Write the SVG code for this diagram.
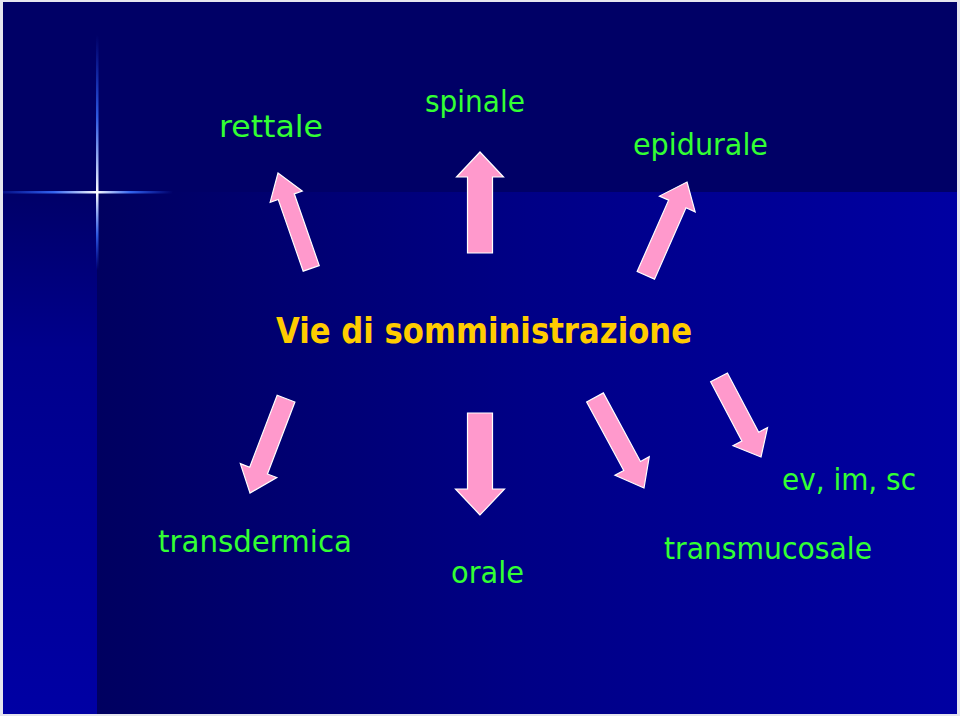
<svg xmlns="http://www.w3.org/2000/svg" width="960" height="716" viewBox="0 0 960 716">
  <defs>
    <linearGradient id="mainGrad" x1="0" y1="0" x2="1" y2="0">
      <stop offset="0" stop-color="#000060"/>
      <stop offset="0.5" stop-color="#000086"/>
      <stop offset="1" stop-color="#0000a2"/>
    </linearGradient>
    <linearGradient id="stripGrad" x1="0" y1="0" x2="0" y2="1">
      <stop offset="0" stop-color="#000068"/>
      <stop offset="0.3" stop-color="#00008c"/>
      <stop offset="1" stop-color="#0000a4"/>
    </linearGradient>
    <linearGradient id="hGlow" x1="0" y1="0" x2="1" y2="0">
      <stop offset="0" stop-color="#2255ff" stop-opacity="0.2"/>
      <stop offset="0.3" stop-color="#3a70ff" stop-opacity="0.9"/>
      <stop offset="0.55" stop-color="#ffffff"/>
      <stop offset="0.75" stop-color="#3a70ff" stop-opacity="0.9"/>
      <stop offset="1" stop-color="#2255ff" stop-opacity="0"/>
    </linearGradient>
    <linearGradient id="vGlow" x1="0" y1="0" x2="0" y2="1">
      <stop offset="0" stop-color="#2255ff" stop-opacity="0"/>
      <stop offset="0.35" stop-color="#3a70ff" stop-opacity="0.8"/>
      <stop offset="0.67" stop-color="#ffffff"/>
      <stop offset="0.85" stop-color="#3a70ff" stop-opacity="0.8"/>
      <stop offset="1" stop-color="#2255ff" stop-opacity="0"/>
    </linearGradient>
  </defs>
  <style>
    .lbl { font-family: "DejaVu Sans", "Liberation Sans", sans-serif; font-size: 30px; fill: #33ff33; }
    .title { font-family: "DejaVu Sans", "Liberation Sans", sans-serif; font-size: 35px; font-weight: bold; fill: #ffcc00; }
    .arrow { fill: #ff99cc; stroke: #ffffff; stroke-width: 1.2; stroke-linejoin: miter; }
  </style>

  <!-- background -->
  <rect x="0" y="0" width="960" height="716" fill="#e6e6ee"/>
  <rect x="3" y="2" width="954" height="712" fill="#000066"/>
  <rect x="97" y="192" width="860" height="522" fill="url(#mainGrad)"/>
  <rect x="3" y="192" width="94" height="522" fill="url(#stripGrad)"/>
  <!-- glow cross -->
  <rect x="3" y="191" width="170" height="2.5" fill="url(#hGlow)"/>
  <rect x="96" y="35" width="2.5" height="235" fill="url(#vGlow)"/>

  <g id="title">
    <text class="title" x="276" y="343" textLength="416" lengthAdjust="spacingAndGlyphs">Vie di somministrazione</text>
  </g>

  <g id="rettale"><text class="lbl" x="219" y="137" textLength="104" lengthAdjust="spacingAndGlyphs">rettale</text></g>
  <g id="spinale"><text class="lbl" x="425" y="112" textLength="100" lengthAdjust="spacingAndGlyphs">spinale</text></g>
  <g id="epidurale"><text class="lbl" x="633" y="155" textLength="135" lengthAdjust="spacingAndGlyphs">epidurale</text></g>
  <g id="transdermica"><text class="lbl" x="158" y="552" textLength="194" lengthAdjust="spacingAndGlyphs">transdermica</text></g>
  <g id="orale"><text class="lbl" x="451" y="583" textLength="73" lengthAdjust="spacingAndGlyphs">orale</text></g>
  <g id="transmucosale"><text class="lbl" x="664" y="559" textLength="208" lengthAdjust="spacingAndGlyphs">transmucosale</text></g>
  <g id="ev-im-sc"><text class="lbl" x="782" y="490" textLength="134" lengthAdjust="spacingAndGlyphs">ev, im, sc</text></g>

  <g id="connectors">
    <polygon class="arrow" transform="translate(278,173) rotate(-19.2)" points="0,0 17,25 8.5,25 8.5,101 -8.5,101 -8.5,25 -17,25"/>
    <polygon class="arrow" transform="translate(480,152)" points="0,0 23.5,25 12.5,25 12.5,101 -12.5,101 -12.5,25 -23.5,25"/>
    <polygon class="arrow" transform="translate(687,182) rotate(23.8)" points="0,0 19.5,24 9.5,24 9.5,102 -9.5,102 -9.5,24 -19.5,24"/>
    <polygon class="arrow" transform="translate(250,493) rotate(200.9)" points="0,0 19.5,24 9.5,24 9.5,101 -9.5,101 -9.5,24 -19.5,24"/>
    <polygon class="arrow" transform="translate(480,515) rotate(180)" points="0,0 24.5,26 12.5,26 12.5,102 -12.5,102 -12.5,26 -24.5,26"/>
    <polygon class="arrow" transform="translate(644,488) rotate(151.6)" points="0,0 19.5,25 9.5,25 9.5,103 -9.5,103 -9.5,25 -19.5,25"/>
    <polygon class="arrow" transform="translate(761,457) rotate(152.2)" points="0,0 19.5,23 9.5,23 9.5,90 -9.5,90 -9.5,23 -19.5,23"/>
  </g>
</svg>
